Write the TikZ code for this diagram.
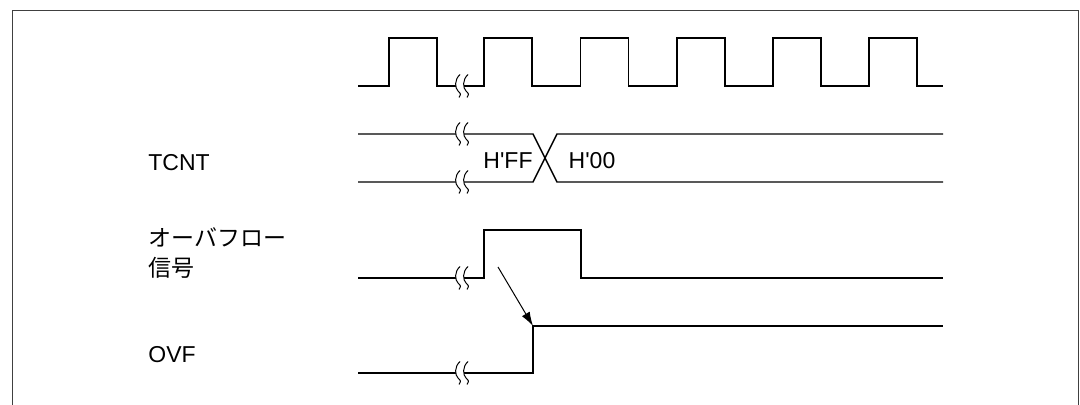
\documentclass[tikz,border=0pt]{standalone}
\usepackage{fontspec}
\setmainfont{Liberation Sans}[Ligatures=TeXOff]
\newfontfamily\jpfont{Noto Sans CJK JP}
\usepackage{tikz}
\usetikzlibrary{arrows.meta}

% two wavy strokes that mark an omitted stretch of a signal
\newcommand{\wavebreak}[2]{%
  \begin{scope}[shift={(#1,#2)}]
    \fill[white] (-2,-11.5) .. controls (-8,-6) and (-7,2) .. (-4,5) .. controls (-1,8) .. (-3,11.5)
      -- (5,11.5) .. controls (7,8) .. (4,5) .. controls (1,2) and (0,-6) .. (6,-11.5) -- cycle;
    \draw[brk] (-2,-11.5) .. controls (-8,-6) and (-7,2) .. (-4,5) .. controls (-1,8) .. (-3,11.5);
    \draw[brk] (6,-11.5) .. controls (0,-6) and (1,2) .. (4,5) .. controls (7,8) .. (5,11.5);
  \end{scope}}

\begin{document}
\begin{tikzpicture}[
  x=0.5pt, y=-0.5pt,
  sig/.style={line width=0.7pt, black},
  brk/.style={line width=0.5pt, black},
  frame/.style={line width=0.5pt, black!75},
  arr/.style={-{Latex[length=7pt,width=4.5pt]}, line width=0.5pt},
  lbl/.style={font=\fontsize{11.5}{15}\selectfont, inner sep=0pt, align=left}
]
  \useasboundingbox (0,0) rectangle (1080,405);
  \draw[frame] (12,405) -- (12,10.5) -- (1078,10.5) -- (1078,405);

  % labels
  \node[lbl, anchor=west] (tcnt) at (148,163) {TCNT};
  \node[lbl, anchor=west] (ovsig) at (148,253) {\jpfont オーバフロー\\\jpfont 信号};
  \node[lbl, anchor=west] (ovf) at (148,355) {OVF};
  \node[lbl] (valff) at (508,161) {H'FF};
  \node[lbl] (val00) at (592,161) {H'00};

  % clock
  \draw[sig] (358,86) -- (389,86) -- (389,38) -- (437,38) -- (437,86) -- (484,86)
    -- (484,38) -- (532,38) -- (532,86) -- (580.5,86) -- (580.5,38) -- (628.5,38) -- (628.5,86)
    -- (677,86) -- (677,38) -- (725,38) -- (725,86) -- (773,86) -- (773,38) -- (821,38) -- (821,86)
    -- (869,86) -- (869,38) -- (917,38) -- (917,86) -- (943,86);

  % TCNT
  \draw[sig] (358,134) -- (533,134) -- (557,182) -- (943,182);
  \draw[sig] (358,182) -- (533,182) -- (557,134) -- (943,134);

  % overflow signal
  \draw[sig] (358,278) -- (484,278) -- (484,230) -- (581,230) -- (581,278) -- (943,278);

  % OVF
  \draw[sig] (358,373) -- (533,373) -- (533,326) -- (943,326);

  \foreach \y in {86,134,182,278,373}
    \wavebreak{462}{\y};

  \coordinate (cause) at (498,267);
  \coordinate (ovfset) at (533,326);
  \draw[arr] (cause) -- (ovfset);
\end{tikzpicture}
\end{document}
